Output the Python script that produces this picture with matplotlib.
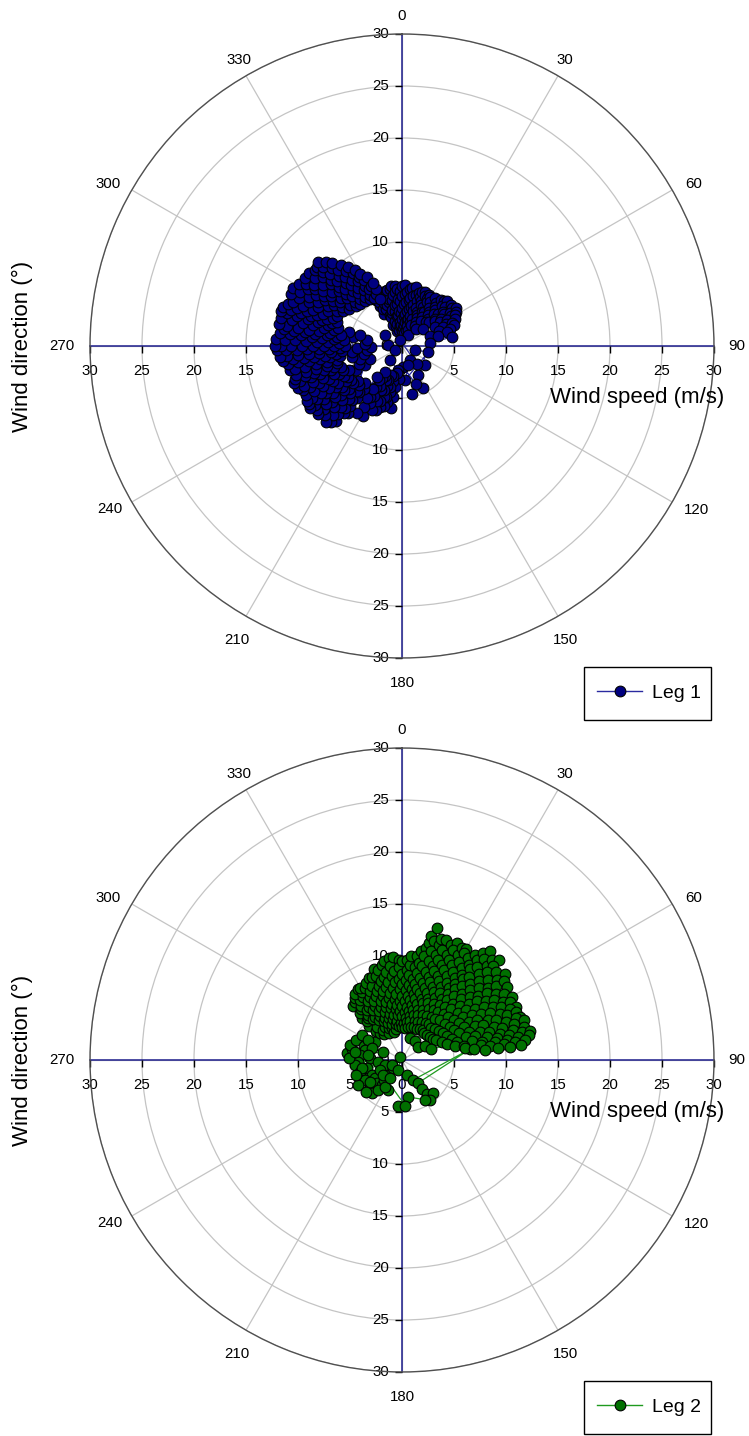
import numpy as np
import matplotlib
matplotlib.use('Agg')
import matplotlib.pyplot as plt
from matplotlib.lines import Line2D
from matplotlib.patches import Rectangle

plt.rcParams['font.family'] = ['Liberation Sans', 'DejaVu Sans']

# ---------------- data (direction in degrees -> wind speeds in m/s) ----------------
leg1_east = {
    331: [3.5, 4.4, 5.1], 336: [2.2, 3.9, 4.9], 340: [1.5, 3.0, 4.2, 5.3],
    345: [2.5, 3.6, 4.7, 5.6], 350: [1.6, 2.9, 4.0, 5.0, 5.9], 355: [2.3, 3.4, 4.5, 5.5],
    0: [1.4, 2.6, 3.7, 4.8, 5.8], 5: [2.0, 3.1, 4.2, 5.2], 10: [1.3, 2.5, 3.6, 4.7, 5.7],
    15: [2.0, 3.0, 4.1, 5.1], 20: [1.6, 2.8, 3.9, 5.0, 5.5], 25: [3.3, 4.4, 5.3],
    30: [1.2, 2.7, 3.8, 4.9, 5.4], 35: [3.4, 4.5, 5.6], 40: [2.1, 3.9, 4.9, 5.8],
    45: [3.3, 4.4, 5.4, 6.1], 50: [2.6, 4.1, 5.1, 6.2], 55: [4.6, 5.6, 6.3],
    60: [3.7, 5.0, 5.9], 65: [4.3, 5.3], 70: [2.9, 4.9], 75: [3.6], 80: [4.9], 83: [2.7],
}
leg1_east_b = {
    333: [4.0, 4.8], 338: [3.2, 4.5, 5.3], 343: [2.0, 3.3, 4.4, 5.5], 348: [2.2, 3.4, 4.5, 5.6],
    353: [1.9, 3.0, 4.1, 5.2, 5.8], 358: [2.0, 3.2, 4.3, 5.3], 3: [1.7, 2.9, 4.0, 5.0, 5.9],
    8: [2.3, 3.4, 4.5, 5.5], 13: [1.6, 2.7, 3.8, 4.9, 5.8], 18: [2.4, 3.5, 4.6, 5.4],
    23: [2.2, 3.6, 4.7, 5.6], 28: [3.1, 4.2, 5.1, 5.6], 33: [2.3, 3.9, 5.0], 38: [3.0, 4.2, 5.3],
    43: [3.6, 4.7, 5.9], 48: [3.5, 4.6, 5.6], 53: [4.0, 5.1, 6.0], 58: [4.3, 5.5, 6.1],
    63: [4.7, 5.7], 68: [3.8, 5.4], 73: [4.5],
}
leg1_se_dir = [168, 154, 151, 130, 150, 175, 103, 107, 177, 160, 140]
leg1_se_spd = [4.7, 4.5, 3.2, 2.9, 1.55, 3.3, 2.6, 1.3, 2.0, 3.9, 2.2]
leg1_center_dir = [342, 274, 303, 240, 221, 190, 162]
leg1_center_spd = [0.6, 1.35, 1.95, 0.8, 1.8, 2.3, 1.9]
leg1_south = {
    186: [3.2], 190: [2.6, 4.0, 5.0, 6.1], 195: [3.5, 4.6, 5.6], 197: [3.0, 4.1, 5.1, 6.0],
    200: [3.0, 4.1, 5.2, 6.2], 202: [3.5, 4.6, 5.7, 6.6], 205: [3.6, 4.7, 5.8, 6.8],
    209: [3.3, 4.4, 5.5, 6.3, 7.7], 212: [3.6, 4.7, 5.8, 6.9], 214: [3.0, 4.0, 5.0, 6.0, 7.8],
    219: [3.8, 8.3],
}
leg1_inner_west = {243: [4.0, 5.0], 248: [3.3, 4.5], 253: [4.2], 258: [3.7, 4.9], 263: [3.4, 4.8],
                   268: [3.0, 4.3], 273: [3.6], 280: [3.4, 4.8], 285: [4.2, 5.3]}
leg1_west = {
    221: [5.5, 6.6, 7.6, 8.5, 9.6], 225: [5.0, 6.1, 7.2, 8.3, 9.4, 10.3],
    231: [5.4, 6.5, 7.5, 8.6, 9.7, 10.4], 236: [5.9, 7.0, 8.0, 9.1, 10.1, 10.7],
    240: [6.0, 7.1, 8.1, 9.0, 10.0, 10.6], 246: [5.6, 6.6, 7.7, 8.7, 9.7, 10.4],
    251: [6.2, 7.2, 8.3, 9.3, 10.4, 11.0], 255: [6.5, 7.5, 8.6, 9.6, 10.6],
    261: [6.0, 7.0, 8.0, 9.1, 10.1, 11.1], 265: [5.8, 6.9, 8.0, 9.0, 10.0, 11.1, 11.8],
    270: [5.5, 6.5, 7.5, 8.6, 9.6, 10.7, 11.6, 12.2], 276: [5.6, 6.6, 7.7, 8.7, 9.8, 10.8, 11.8],
    280: [6.0, 7.0, 8.1, 9.1, 10.2, 11.2, 12.0], 286: [6.4, 7.4, 8.4, 9.4, 10.5, 11.5, 12.1],
    290: [6.7, 7.7, 8.7, 9.7, 10.7, 11.7], 295: [6.9, 7.9, 8.9, 9.9, 10.9, 11.8],
    301: [6.6, 7.6, 8.6, 9.6, 10.6, 11.6], 305: [6.2, 7.3, 8.3, 9.3, 10.3, 11.4],
    311: [5.9, 7.0, 8.0, 9.1, 10.1, 11.1], 315: [5.7, 6.8, 7.8, 8.8, 9.8, 10.8, 11.4],
    320: [5.6, 6.6, 7.6, 8.6, 9.6, 10.4], 326: [5.5, 6.5, 7.5, 8.5, 9.2],
    330: [5.3, 6.3, 7.3, 8.0], 335: [5.0, 6.0, 6.7],
}
leg1_west_b = {
    223: [6.0, 7.1, 8.1, 9.0, 10.0], 228: [5.6, 6.7, 7.7, 8.8, 9.9], 233: [5.9, 7.0, 8.1, 9.2, 10.2],
    238: [6.4, 7.5, 8.6, 9.6, 10.5], 243: [6.3, 7.4, 8.5, 9.5, 10.4], 248: [6.1, 7.1, 8.2, 9.2, 10.2, 10.8],
    253: [6.8, 7.8, 8.8, 9.8, 10.8], 258: [6.4, 7.4, 8.5, 9.5, 10.5, 11.0],
    263: [6.4, 7.5, 8.5, 9.5, 10.6, 11.5], 268: [6.0, 7.0, 8.0, 9.1, 10.1, 11.2, 12.0],
    273: [6.1, 7.1, 8.2, 9.2, 10.3, 11.3, 12.1], 278: [6.3, 7.3, 8.4, 9.4, 10.5, 11.5],
    283: [6.7, 7.7, 8.8, 9.8, 10.9, 11.9], 288: [7.1, 8.1, 9.2, 10.2, 11.2, 12.0],
    292: [7.2, 8.2, 9.2, 10.3, 11.3], 298: [7.1, 8.1, 9.1, 10.1, 11.1, 11.9],
    303: [6.9, 7.9, 8.9, 10.0, 11.0], 308: [6.4, 7.5, 8.5, 9.6, 10.6, 11.4],
    313: [6.2, 7.3, 8.3, 9.3, 10.4, 11.2], 318: [6.1, 7.1, 8.1, 9.1, 10.1, 10.9],
    323: [5.9, 7.0, 8.0, 9.0, 9.8], 328: [5.8, 6.8, 7.8, 8.6], 333: [5.6, 6.5, 7.4],
}

leg2_sw_dir = [277, 283, 286, 293, 290, 302, 304, 300, 285, 292, 293, 277, 267, 274, 265, 257, 254,
               264, 254, 243, 245, 242, 240, 229, 236, 227, 222, 219, 222, 223, 228, 246, 228, 205, 245,
               272, 280, 278, 259, 235, 219, 252, 212]
leg2_sw_spd = [5.3, 4.9, 5.2, 4.8, 3.9, 4.5, 3.1, 3.8, 3.7, 3.1, 2.0, 4.1, 4.2, 3.1, 2.3, 3.5, 1.7,
               4.5, 4.2, 3.2, 4.5, 4.0, 4.9, 4.1, 3.1, 3.3, 4.3, 3.1, 2.6, 2.0, 1.2, 2.3, 4.6, 3.2, 1.1,
               5.1, 4.6, 3.3, 3.9, 3.7, 3.7, 4.65, 3.1]
leg2_trail_dir = [330, 200, 162, 151, 81, 145, 145, 144, 137, 145, 150, 171, 185, 176, 232, 214]
leg2_trail_spd = [0.3, 1.0, 1.5, 2.2, 6.6, 2.7, 3.4, 4.1, 4.4, 4.7, 4.4, 3.6, 4.4, 4.4, 2.3, 2.1]
leg2_main = {
    316: [4.6, 5.6], 321: [3.4, 5.2, 6.3, 7.2], 325: [3.0, 4.8, 5.9, 7.0, 7.8],
    330: [4.4, 5.5, 6.6, 7.6, 8.0], 335: [2.9, 4.1, 5.2, 6.3, 7.3, 8.2],
    340: [3.8, 4.9, 6.0, 7.1, 8.5], 345: [2.8, 3.6, 4.6, 5.8, 6.9, 7.9, 9.0],
    350: [3.5, 4.4, 5.5, 6.5, 7.6, 8.6, 9.7], 355: [3.3, 4.3, 5.3, 6.4, 7.5, 8.6, 9.9],
    0: [3.2, 4.2, 5.2, 6.2, 7.3, 8.3, 9.5], 5: [3.1, 4.1, 5.1, 6.2, 7.2, 8.2, 9.2, 10.0],
    10: [3.2, 4.3, 5.4, 6.4, 7.4, 8.5, 9.5, 10.6], 13: [11.5, 12.2],
    15: [3.3, 4.5, 5.6, 6.7, 7.7, 8.8, 9.9, 10.9, 11.8, 13.1],
    20: [2.3, 3.4, 4.6, 5.8, 6.9, 8.0, 9.1, 10.2, 11.3, 12.3],
    25: [3.3, 4.8, 6.0, 7.2, 8.4, 9.5, 10.6, 11.7, 12.4],
    30: [3.4, 4.9, 6.2, 7.4, 8.6, 9.8, 10.9, 11.9, 12.3],
    35: [2.2, 3.5, 5.0, 6.4, 7.7, 8.9, 10.0, 11.2, 12.3],
    39: [3.3, 5.1, 6.6, 7.9, 9.1, 10.3, 11.5, 12.5, 13.5],
    44: [3.4, 5.3, 6.8, 8.1, 9.4, 10.6, 11.7, 12.6, 13.4],
    50: [2.0, 3.5, 5.4, 7.0, 8.4, 9.6, 10.8, 11.9, 12.9],
    55: [3.6, 5.6, 7.2, 8.6, 9.9, 11.0, 12.3],
    60: [2.6, 3.8, 5.8, 7.4, 8.8, 10.1, 11.2, 12.2],
    65: [4.2, 6.1, 7.7, 9.1, 10.4, 11.5, 12.1],
    70: [3.0, 4.6, 6.5, 8.0, 9.4, 10.6, 11.7, 12.1],
    75: [5.3, 7.0, 8.5, 9.8, 11.0, 12.1],
    79: [6.2, 7.7, 9.1, 10.3, 11.4, 12.4],
    83: [8.0, 9.3, 10.5, 11.5],
}
leg2_main_b = {
    318: [3.7, 5.0, 6.1, 7.0], 323: [4.0, 5.4, 6.5, 7.5], 328: [3.4, 4.9, 6.0, 7.1, 8.0],
    333: [3.6, 4.7, 5.8, 6.8, 7.8], 338: [3.3, 4.4, 5.5, 6.6, 7.7, 8.5],
    343: [3.2, 4.2, 5.3, 6.4, 7.4, 8.4, 9.1], 348: [3.0, 4.0, 5.1, 6.1, 7.2, 8.2, 9.3],
    353: [3.8, 4.9, 5.9, 7.0, 8.1, 9.1, 9.9], 358: [3.6, 4.7, 5.7, 6.8, 7.8, 8.9, 9.6],
    3: [3.6, 4.6, 5.7, 6.7, 7.7, 8.7, 9.6], 8: [3.7, 4.8, 5.8, 6.9, 7.9, 9.0, 10.1],
    12: [3.8, 4.9, 6.0, 7.0, 8.1, 9.2, 10.2, 11.0], 18: [3.9, 5.1, 6.2, 7.3, 8.4, 9.5, 10.6, 11.6, 12.2],
    23: [4.0, 5.2, 6.4, 7.6, 8.8, 9.9, 11.0, 12.0], 28: [4.1, 5.5, 6.8, 8.0, 9.2, 10.3, 11.4, 12.2],
    33: [4.2, 5.7, 7.0, 8.3, 9.4, 10.6, 11.7], 37: [4.3, 5.8, 7.2, 8.5, 9.7, 10.9, 12.0, 12.9],
    42: [4.2, 6.0, 7.3, 8.6, 9.8, 11.1, 12.2, 13.0], 47: [4.4, 6.1, 7.6, 8.9, 10.1, 11.3, 12.4],
    52: [4.5, 6.3, 7.8, 9.2, 10.4, 11.5, 12.4], 57: [4.7, 6.5, 8.0, 9.4, 10.6, 11.7],
    62: [4.9, 6.7, 8.2, 9.6, 10.8, 11.8], 67: [5.2, 7.0, 8.5, 9.8, 11.0, 11.9],
    72: [5.6, 7.4, 8.8, 10.1, 11.3, 12.3], 77: [6.1, 7.9, 9.4, 10.6, 11.8, 12.6],
    81: [7.0, 8.6, 9.9, 11.0, 12.0],
}

r_ticks = [5, 10, 15, 20, 25, 30]
angle_ticks = list(range(0, 360, 30))
legend_labels = ['Leg 1', 'Leg 2']


def sweep(start, *dicts):
    """Merge direction columns, order them clockwise from `start`, and walk them
    back and forth (serpentine) so that the connecting line stays short."""
    merged = {}
    for dct in dicts:
        merged.update(dct)
    d, s = [], []
    for i, k in enumerate(sorted(merged, key=lambda a: (a - start) % 360)):
        v = list(merged[k])
        if i % 2:
            v = v[::-1]
        d += [k] * len(v)
        s += v
    return d, s


def series(*parts):
    d, s = [], []
    for dd, ss in parts:
        d += list(dd)
        s += list(ss)
    return np.deg2rad(np.array(d, dtype=float)), np.array(s, dtype=float)


leg1_theta, leg1_r = series(sweep(330, leg1_east, leg1_east_b), (leg1_se_dir, leg1_se_spd),
                            (leg1_center_dir, leg1_center_spd), sweep(186, leg1_south),
                            sweep(243, leg1_inner_west), sweep(220, leg1_west, leg1_west_b))
leg2_theta, leg2_r = series((leg2_sw_dir, leg2_sw_spd), (leg2_trail_dir, leg2_trail_spd),
                            sweep(316, leg2_main, leg2_main_b))

W, H = 749, 1436
fig = plt.figure(figsize=(W / 100, H / 100), dpi=100)

AXIS_COL = '#1e1e8c'
TICK_FS = 10.8
TITLE_FS = 16
# pixel offsets (x right, y up) of the angle labels from the outer circle
angle_label_off = {0: (0, 18), 30: (7, 16), 60: (21, 6), 90: (23, 0), 120: (24, -8), 150: (8, -24),
                   180: (0, -25), 210: (-9, -24), 240: (-22, -7), 270: (-28, 0), 300: (-24, 6),
                   330: (-7, 16)}


def make_polar(cy, theta, r, line_col, face_col, label):
    R = 312
    cx = 402
    ax = fig.add_axes([(cx - R) / W, (H - cy - R) / H, 2 * R / W, 2 * R / H], projection='polar')
    ax.set_theta_zero_location('N')
    ax.set_theta_direction(-1)
    ax.set_ylim(0, 30)
    ax.set_yticks(r_ticks)
    ax.set_yticklabels([])
    ax.set_xticks(np.deg2rad(angle_ticks))
    ax.set_xticklabels([])
    ax.grid(True, color='#c4c4c4', lw=0.9)
    ax.spines['polar'].set_color('#505050')
    ax.spines['polar'].set_linewidth(1.0)
    ax.tick_params(axis='x', direction='out', length=5, width=1, colors='black')
    ax.tick_params(axis='y', length=0)
    ax.set_axisbelow(True)

    for a in angle_ticks:
        ox, oy = angle_label_off[a]
        ax.annotate(str(a), xy=(np.deg2rad(a), 30), xytext=(ox, oy), textcoords='offset pixels',
                    ha='center', va='center', fontsize=TICK_FS, annotation_clip=False)

    # cross axes
    for th in [0, 90, 180, 270]:
        ax.plot([np.deg2rad(th)] * 2, [0, 30], color=AXIS_COL, lw=1.1, zorder=2, clip_on=False)
    rt = [0] + r_ticks
    ax.plot(np.deg2rad([0] * len(rt) + [180] * len(rt)), rt + rt, ls='none', marker=0,
            ms=5, mew=1, color='black', zorder=2, clip_on=False)
    ax.plot(np.deg2rad([90] * len(rt) + [270] * len(rt)), rt + rt, ls='none', marker=3,
            ms=5, mew=1, color='black', zorder=2, clip_on=False)
    for v in rt:
        for th in ([0, 180] if v else [0]):
            ax.annotate(str(v), xy=(np.deg2rad(th), v), xytext=(-13, 0), textcoords='offset pixels',
                        ha='right', va='center', fontsize=TICK_FS, zorder=2.5, annotation_clip=False)
        for th in ([90, 270] if v else [90]):
            ax.annotate(str(v), xy=(np.deg2rad(th), v), xytext=(0, -25), textcoords='offset pixels',
                        ha='center', va='center', fontsize=TICK_FS, zorder=2.5, annotation_clip=False)

    ax.plot(theta, r, color=line_col, lw=0.9, marker='o', ms=7.7, mfc=face_col, mec='black',
            mew=0.8, zorder=4)

    fig.text(637 / W, 1 - (cy + 51) / H, 'Wind speed (m/s)', fontsize=TITLE_FS, ha='center', va='center')
    fig.text(22 / W, 1 - cy / H, 'Wind direction (°)', fontsize=TITLE_FS, ha='center', va='center',
             rotation=90)

    # legend box
    x0, x1 = 584, 711
    y0, y1 = cy + 321, cy + 374
    fig.patches.append(Rectangle((x0 / W, 1 - y1 / H), (x1 - x0) / W, (y1 - y0) / H,
                                 transform=fig.transFigure, fill=True, facecolor='white',
                                 edgecolor='black', lw=1.0, zorder=5))
    handle = Line2D([], [], color=line_col, lw=1.0, marker='o', ms=7.7, mfc=face_col, mec='black', mew=0.8)
    leg = fig.legend([handle], [label], loc='center',
                     bbox_to_anchor=(649 / W, 1 - (y0 + y1) / 2 / H), bbox_transform=fig.transFigure,
                     frameon=False, fontsize=14, borderaxespad=0, handlelength=2.3,
                     borderpad=0, handletextpad=0.5)
    leg.set_zorder(6)
    return ax


make_polar(346, leg1_theta, leg1_r, '#2a2aa0', '#000080', legend_labels[0])
make_polar(1060, leg2_theta, leg2_r, '#1f9a1f', '#007000', legend_labels[1])

fig.savefig('out.png', dpi=100)
